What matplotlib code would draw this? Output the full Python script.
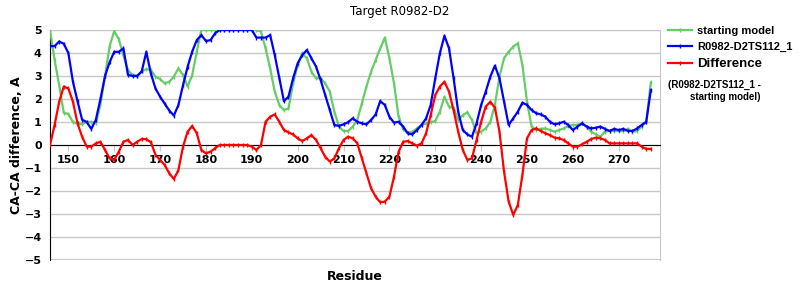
import numpy as np
import matplotlib
matplotlib.use("Agg")
import matplotlib.pyplot as plt

residues = list(range(146, 278))

starting_model = [
    5.0, 3.7, 2.6, 1.4, 1.35, 1.0, 0.93, 0.9, 1.0, 1.0,
    0.95, 1.75, 3.0, 4.3, 4.95, 4.6, 3.9, 3.25, 3.05, 3.0,
    3.2, 3.3, 3.26, 2.97, 2.87, 2.68, 2.75, 2.97, 3.33, 3.04,
    2.54, 3.04, 4.06, 5.0, 5.0, 5.0, 5.0, 5.0, 5.0, 5.0,
    5.0, 5.0, 5.0, 5.0, 5.0, 5.0, 4.93, 4.2, 3.33, 2.32,
    1.74, 1.52, 1.59, 2.68, 3.48, 3.99, 3.77, 3.19, 2.9, 2.9,
    2.68, 2.32, 1.45, 0.8, 0.61, 0.61, 0.8, 1.09, 1.81, 2.54,
    3.19, 3.7, 4.2, 4.67, 3.77, 2.68, 1.23, 0.7, 0.51, 0.58,
    0.72, 0.87, 0.94, 0.99, 1.04, 1.45, 2.1, 1.67, 1.6, 1.09,
    1.3, 1.42, 1.09, 0.51, 0.58, 0.72, 1.01, 1.74, 2.97, 3.77,
    4.06, 4.28, 4.42, 3.48, 1.88, 0.8, 0.65, 0.7, 0.72, 0.65,
    0.58, 0.65, 0.72, 0.83, 0.87, 0.87, 0.94, 0.8, 0.58, 0.46,
    0.36, 0.58, 0.61, 0.61, 0.61, 0.61, 0.7, 0.58, 0.61, 0.8,
    1.01, 2.72,
]

model_ts112 = [
    4.3, 4.3, 4.5, 4.4, 4.0, 2.75, 1.9, 1.1, 1.0, 0.7,
    1.1, 2.0, 3.0, 3.6, 4.05, 4.05, 4.2, 3.05, 3.0, 3.0,
    3.2, 4.05, 3.1, 2.46, 2.1, 1.8, 1.5, 1.28, 1.74, 2.6,
    3.4, 4.06, 4.56, 4.78, 4.52, 4.56, 4.86, 5.0, 5.0, 5.0,
    5.0, 5.0, 5.0, 5.0, 5.0, 4.67, 4.67, 4.67, 4.78, 3.91,
    2.9, 1.91, 2.1, 2.9, 3.55, 3.91, 4.13, 3.77, 3.41, 2.83,
    2.17, 1.52, 0.87, 0.83, 0.9, 0.99, 1.16, 1.01, 0.94, 0.9,
    1.09, 1.33, 1.91, 1.74, 1.23, 0.97, 1.01, 0.8, 0.51, 0.46,
    0.65, 0.87, 1.16, 1.74, 2.9, 3.99, 4.75, 4.2, 2.9, 1.45,
    0.65, 0.46, 0.36, 0.94, 1.74, 2.32, 2.97, 3.45, 2.9, 1.88,
    0.87, 1.16, 1.45, 1.84, 1.74, 1.52, 1.38, 1.33, 1.23, 1.01,
    0.9, 0.94, 1.01, 0.87, 0.65, 0.8, 0.94, 0.8, 0.72, 0.75,
    0.8, 0.7, 0.61, 0.7, 0.65, 0.7, 0.61, 0.61, 0.72, 0.87,
    1.01, 2.39,
]

difference = [
    0.0, 0.87, 1.88, 2.54, 2.46, 1.88, 0.94, 0.36, -0.07, -0.07,
    0.07, 0.14, -0.22, -0.58, -0.65, -0.29, 0.14, 0.22, 0.0, 0.14,
    0.26, 0.25, 0.12, -0.43, -0.65, -0.87, -1.23, -1.48, -1.09, -0.07,
    0.58, 0.83, 0.51, -0.22, -0.36, -0.29, -0.14, 0.0, 0.0, 0.0,
    0.0, 0.0, 0.0, 0.0, -0.07, -0.22, 0.0, 1.01, 1.23, 1.33,
    1.01, 0.65, 0.55, 0.46, 0.29, 0.17, 0.29, 0.43, 0.22, -0.14,
    -0.51, -0.72, -0.58, -0.14, 0.22, 0.36, 0.29, 0.07, -0.58, -1.23,
    -1.88, -2.25, -2.49, -2.46, -2.25, -1.38, -0.29, 0.14, 0.17, 0.07,
    -0.03, 0.07, 0.51, 1.3, 2.17, 2.54, 2.75, 2.32, 1.5, 0.58,
    -0.22, -0.65, -0.58, 0.22, 1.01, 1.67, 1.88, 1.62, 0.58, -1.16,
    -2.46, -3.04, -2.61, -1.3, 0.29, 0.65, 0.72, 0.61, 0.51, 0.43,
    0.32, 0.29, 0.22, 0.07, -0.07, -0.07, 0.03, 0.14, 0.26, 0.32,
    0.29, 0.22, 0.07, 0.07, 0.07, 0.07, 0.07, 0.07, 0.07, -0.07,
    -0.17, -0.17,
]

x_ticks = list(range(150, 271, 10))
y_ticks = list(range(-5, 6))

plt.rcParams["font.family"] = ["DejaVu Sans"]

fig = plt.figure(figsize=(8, 3), dpi=100)
ax = fig.add_axes([0.0625, 0.1333, 0.7625, 0.7667])

ax.plot(residues, starting_model, color="#66cc66", lw=1.6, marker="|", ms=3,
        mew=1, label="starting model", zorder=3)
ax.plot(residues, model_ts112, color="#0000ff", lw=1.6, marker="|", ms=3,
        mew=1, label="R0982-D2TS112_1", zorder=4)
ax.plot(residues, difference, color="#ff0000", lw=1.6, marker="|", ms=3,
        mew=1, label="Difference", zorder=5)

ax.set_xlim(146, 279)
ax.set_ylim(-5, 5)
ax.set_yticks(y_ticks)
ax.set_xticks(x_ticks)
ax.grid(axis="y", color="#c8c8c8", lw=1)
ax.set_axisbelow(True)

for side in ["top", "right"]:
    ax.spines[side].set_color("#c8c8c8")
ax.spines["left"].set_color("black")
ax.spines["bottom"].set_position(("data", 0))
ax.spines["bottom"].set_color("black")
ax.axhline(-5, color="#c8c8c8", lw=1.5, zorder=0)

ax.tick_params(axis="x", length=4, color="#c8c8c8", pad=3, labelsize=8)
ax.tick_params(axis="y", length=0, pad=6, labelsize=8)
for lbl in ax.get_xticklabels() + ax.get_yticklabels():
    lbl.set_fontweight("bold")

ax.set_xlabel("Residue", fontsize=9, fontweight="bold")
ax.xaxis.set_label_coords(0.5, -0.045)
ax.set_ylabel("CA-CA difference, A", fontsize=9, fontweight="bold", labelpad=1)

fig.text(0.5, 0.962, "Target R0982-D2", ha="center", va="center", fontsize=8.5)

leg = ax.legend(loc="upper left", bbox_to_anchor=(0.835, 0.915),
                bbox_transform=fig.transFigure, frameon=False,
                handlelength=2.2, handletextpad=0.4, labelspacing=0.55,
                borderaxespad=0, borderpad=0,
                prop={"family": "Liberation Sans", "weight": "bold", "size": 8})
leg.get_texts()[2].set_fontsize(9.5)
fig.text(0.835, 0.735, "(R0982-D2TS112_1 -\n        starting model)",
         ha="left", va="top", fontsize=7, fontweight="bold",
         family="Liberation Sans", linespacing=1.25)

fig.savefig("out.png", dpi=100)
